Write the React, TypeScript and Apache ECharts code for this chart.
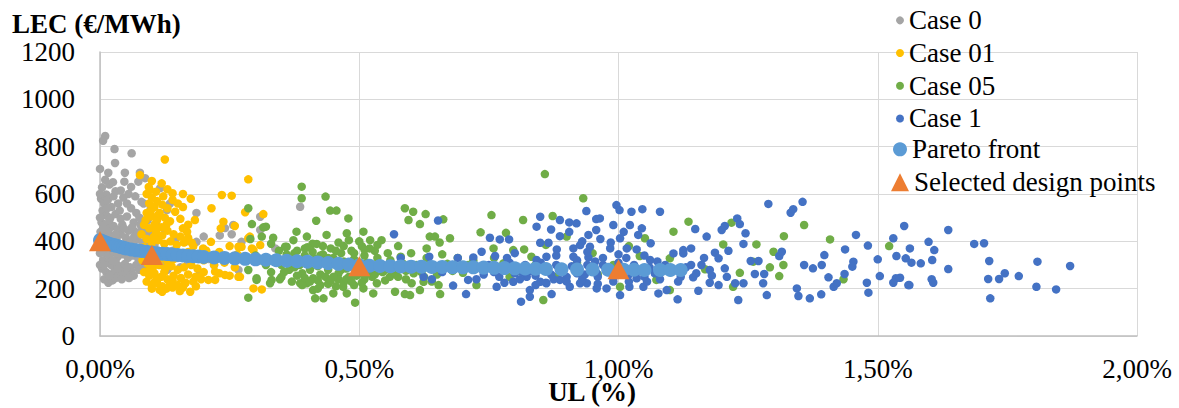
import React, { useEffect, useRef } from "react";
import * as echarts from "echarts";

// x in % (UL), y in €/MWh (LEC)
const case0: number[][] = [
  [0.010,845],[0.006,825],[0.028,790],[0.061,772],[0.029,731],[0.000,706],[0.048,690],[0.077,690],[0.087,667],[0.010,660],
  [0.047,652],[0.074,652],[0.116,625],[0.018,640],[0.004,628],[0.030,612],[0.012,598],[0.055,600],[0.080,567],[0.129,532],
  [0.186,520],[0.309,504],[0.386,546],[0.257,469],[0.241,456],[0.254,430],[0.309,448],[0.200,420],[0.186,398],[0.164,398],
  [0.231,425],[0.273,398],[0.338,370],[0.193,265],[0.145,405],[0.122,335],[0.267,279],
  [0.002,580],[0.008,560],[0.015,575],[0.022,545],[0.035,560],[0.045,585],[0.060,540],[0.070,520],[0.005,530],[0.012,510],
  [0.020,500],[0.030,515],[0.040,495],[0.052,505],[0.065,480],[0.078,470],[0.090,455],[0.003,480],[0.010,470],[0.018,455],
  [0.026,465],[0.034,450],[0.043,470],[0.055,445],[0.068,440],[0.085,430],[0.095,420],[0.001,440],[0.008,425],[0.016,435],
  [0.024,420],[0.032,410],[0.040,430],[0.050,415],[0.060,400],[0.072,410],[0.082,395],[0.100,440],[0.004,400],[0.012,390],
  [0.020,380],[0.028,395],[0.036,375],[0.046,385],[0.056,370],[0.066,380],[0.078,365],[0.090,375],[0.105,385],[0.002,360],
  [0.010,350],[0.018,340],[0.026,355],[0.034,335],[0.044,345],[0.054,330],[0.064,340],[0.074,325],[0.086,335],[0.098,320],
  [0.006,320],[0.014,310],[0.022,300],[0.030,315],[0.038,295],[0.048,305],[0.058,290],[0.070,300],[0.082,295],[0.094,305],
  [0.110,310],[0.004,285],[0.012,270],[0.020,260],[0.028,275],[0.036,255],[0.044,270],[0.060,275],[0.075,280],[0.008,240],
  [0.016,225],[0.024,235],[0.030,245],[0.050,260],[0.065,255],[0.000,300],[0.000,350],[0.000,500],[0.000,600],[0.040,615],
  [0.025,650],[0.016,690],[0.060,630],[0.120,300],[0.130,280],[0.140,360],[0.150,330],[0.155,290],[0.170,310],[0.180,345],
  [0.210,325],[0.220,300],[0.125,450],[0.110,500],[0.135,560],
  [0.014,540],[0.026,590],[0.038,530],[0.052,560],[0.018,490],[0.046,455],[0.062,460],[0.006,455],[0.030,430],[0.070,360],
  [0.014,370],[0.040,360],[0.052,290],[0.024,320],[0.008,300],[0.034,285],[0.042,240],[0.056,245],[0.018,255],[0.090,280],
  [0.068,590],[0.084,560],[0.098,540],[0.076,500],[0.092,490],[0.108,470],[0.066,420],[0.080,445],[0.096,395],[0.112,410]
];

const case01: number[][] = [
  [0.125,746],[0.077,680],[0.100,655],[0.119,645],[0.286,662],[0.235,596],[0.254,593],[0.140,603],[0.096,617],[0.215,540],
  [0.280,523],[0.315,515],[0.238,483],[0.183,490],[0.233,455],[0.260,465],[0.289,420],[0.273,377],[0.309,384],[0.296,363],
  [0.270,250],[0.296,201],[0.312,197],[0.209,237],[0.222,237],[0.241,258],[0.222,272],[0.154,190],[0.174,187],[0.120,187],
  [0.177,394],[0.214,398],[0.199,370],[0.267,377],[0.286,413],[0.293,370],[0.164,223],[0.193,250],[0.267,250],
  [0.090,600],[0.100,585],[0.110,570],[0.095,560],[0.105,545],[0.120,555],[0.130,540],[0.140,575],[0.150,560],[0.160,545],
  [0.145,525],[0.090,520],[0.100,505],[0.110,490],[0.125,500],[0.135,485],[0.155,495],[0.170,470],[0.160,455],[0.085,470],
  [0.095,455],[0.108,440],[0.118,460],[0.130,445],[0.142,430],[0.155,420],[0.168,440],[0.080,430],[0.090,410],[0.100,395],
  [0.112,405],[0.124,390],[0.136,400],[0.148,385],[0.162,395],[0.180,380],[0.085,375],[0.095,360],[0.105,345],[0.118,330],
  [0.130,315],[0.142,325],[0.156,340],[0.170,355],[0.190,340],[0.200,320],[0.082,320],[0.092,305],[0.102,290],[0.114,300],
  [0.126,285],[0.138,295],[0.150,280],[0.162,290],[0.176,300],[0.188,285],[0.085,270],[0.095,255],[0.105,265],[0.118,250],
  [0.130,240],[0.142,255],[0.156,245],[0.170,260],[0.184,250],[0.200,270],[0.090,230],[0.100,215],[0.110,225],[0.120,210],
  [0.135,220],[0.150,215],[0.165,225],[0.180,230],[0.195,240],[0.100,200],[0.115,195],[0.140,205],[0.220,300],[0.240,310],
  [0.260,290],[0.250,255],[0.230,265],[0.170,415],[0.130,620],[0.115,520],[0.160,600],[0.175,580],[0.105,470],[0.250,380],
  [0.265,345],[0.230,355],[0.205,360],
  [0.094,630],[0.108,610],[0.122,590],[0.098,530],[0.112,510],[0.128,470],[0.088,490],[0.104,420],[0.120,425],[0.090,340],
  [0.110,360],[0.124,365],[0.096,280],[0.110,245],[0.124,270],[0.140,235],[0.106,230],[0.128,200],[0.160,205],[0.185,210]
];

const case05: number[][] = [
  [0.286,540],[0.293,473],[0.312,420],[0.320,462],[0.334,415],[0.286,279],[0.302,237],[0.286,162],[0.331,237],[0.347,240],
  [0.389,631],[0.389,582],[0.435,589],[0.417,487],[0.444,530],[0.456,530],[0.479,497],[0.379,441],[0.399,420],[0.418,389],
  [0.437,427],[0.360,377],[0.373,405],[0.386,223],[0.415,159],[0.431,159],[0.450,180],[0.492,141],[0.399,223],[0.411,194],
  [0.469,208],[0.508,441],[0.521,405],[0.543,405],[0.588,540],[0.604,525],[0.595,490],[0.628,515],[0.617,473],[0.636,420],
  [0.646,420],[0.675,413],[0.662,493],[0.357,377],[0.315,459],[0.476,434],[0.476,180],[0.527,180],[0.569,187],[0.588,177],
  [0.598,173],[0.617,194],[0.624,229],[0.656,177],[0.653,215],[0.601,223],[0.559,250],[0.534,223],[0.508,201],[0.328,223],
  [0.302,244],[0.411,244],[0.858,684],[0.932,582],[0.755,511],[0.816,490],[0.873,507],[0.734,438],[0.783,436],[0.759,370],
  [0.797,363],[0.818,366],[0.832,335],[1.106,441],[1.135,483],[1.051,413],[1.041,338],[1.099,328],[1.073,237],[1.003,208],
  [1.099,194],[0.855,152],[0.726,215],[0.700,267],[0.778,307],[1.218,479],[1.358,469],[1.202,387],[1.266,387],[1.319,422],
  [1.408,408],[1.522,380],[1.299,356],[1.260,314],[1.318,300],[1.292,290],[1.167,282],[1.234,267],[1.310,253],[1.434,240],
  [1.221,208],
  [0.340,330],[0.350,300],[0.360,345],[0.365,280],[0.370,320],[0.380,360],[0.385,300],[0.390,265],[0.395,340],[0.400,310],
  [0.405,280],[0.410,355],[0.415,325],[0.420,295],[0.425,260],[0.430,345],[0.435,310],[0.440,280],[0.445,370],[0.450,330],
  [0.455,300],[0.460,265],[0.465,350],[0.470,315],[0.475,285],[0.480,250],[0.485,360],[0.490,325],[0.495,295],[0.500,265],
  [0.505,380],[0.510,340],[0.515,310],[0.520,280],[0.525,250],[0.530,360],[0.535,330],[0.540,300],[0.545,270],[0.550,235],
  [0.555,350],[0.560,320],[0.565,290],[0.570,260],[0.575,380],[0.580,335],[0.585,305],[0.590,275],[0.600,350],[0.610,300],
  [0.620,270],[0.630,330],[0.640,290],[0.650,260],[0.660,345],[0.670,305],[0.680,275],[0.690,330],[0.710,300],[0.350,250],
  [0.370,230],[0.390,215],[0.420,235],[0.440,220],[0.460,240],[0.470,225],[0.490,215],[0.510,240],[0.530,260],[0.420,200],
  [0.450,250],[0.380,255],[0.330,270],[0.345,360],[0.410,390],[0.460,395],[0.500,400],[0.395,370],[0.430,380],[0.520,370],
  [0.480,405],[0.310,320],[0.320,300],[0.300,340],[0.290,410],[0.330,390],[0.630,370],[0.655,395],[0.720,320],[0.740,280],
  [0.760,330],[0.790,250],[0.810,275],[0.840,300],[0.880,250],[0.920,310],[0.960,260],[0.990,300],[0.860,385],[0.900,420],
  [0.950,350],[1.020,380],
  [0.355,270],[0.375,290],[0.395,245],[0.405,230],[0.425,215],[0.435,250],[0.445,235],[0.455,210],[0.465,280],[0.475,240],
  [0.485,230],[0.495,255],[0.505,225],[0.515,265],[0.375,350],[0.400,375],[0.425,340],[0.440,330],[0.455,360],[0.470,380],
  [0.490,350],[0.510,365],[0.535,385],[0.550,280],[0.560,290],[0.575,250],[0.590,240],[0.605,265],[0.625,250],[0.640,230]
];

const case1: number[][] = [
  [0.652,488],[0.567,430],[0.635,335],[0.624,250],[0.640,240],[0.681,213],[0.706,177],[0.710,237],[0.720,332],[0.736,356],
  [0.752,415],[0.771,408],[0.789,408],[0.762,338],[0.726,240],[0.765,208],[0.797,229],[0.812,145],[0.829,166],[0.842,462],
  [0.849,504],[0.849,394],[0.865,394],[0.887,490],[0.887,422],[0.881,366],[0.919,476],[0.938,528],[0.957,494],[0.957,448],
  [0.942,427],[0.913,370],[0.926,384],[0.913,335],[0.926,223],[0.906,208],[0.871,177],[0.849,229],[0.996,553],[1.002,532],
  [1.025,525],[0.990,469],[1.022,469],[1.003,413],[0.984,370],[1.016,370],[1.003,173],[0.964,497],[0.942,332],[0.945,377],
  [0.939,223],[0.977,201],[0.958,201],[1.046,536],[1.080,525],[1.035,366],[1.038,427],[1.062,392],[1.021,208],[1.048,208],
  [1.077,180],[1.093,194],[1.114,155],[1.106,349],[1.125,363],[1.061,321],[1.035,244],[1.016,258],[0.958,265],[0.887,237],
  [0.861,223],[0.829,194],[0.823,250],[0.842,321],[0.861,335],
  [1.148,452],[1.170,420],[1.199,448],[1.205,465],[1.229,497],[1.234,473],[1.245,434],[1.241,389],[1.212,360],[1.186,352],
  [1.193,328],[1.140,370],[1.125,349],[1.176,279],[1.205,286],[1.209,250],[1.225,223],[1.193,215],[1.176,225],[1.154,191],
  [1.144,248],[1.231,152],[1.241,223],[1.255,317],[1.270,317],[1.263,262],[1.281,262],[1.279,223],[1.286,173],[1.289,558],
  [1.332,521],[1.337,536],[1.355,567],[1.310,338],[1.315,356],[1.344,201],[1.347,169],[1.369,159],[1.391,176],[1.358,300],
  [1.375,286],[1.392,300],[1.397,342],[1.405,248],[1.415,208],[1.421,223],[1.436,262],[1.437,366],[1.453,314],[1.451,293],
  [1.458,427],[1.481,382],[1.479,225],[1.482,183],[1.500,324],[1.504,253],[1.530,413],[1.536,338],[1.551,465],[1.554,328],
  [1.559,215],[1.535,244],[1.530,225],[1.562,370],
  [1.636,448],[1.598,398],[1.609,363],[1.565,310],[1.583,307],[1.605,321],[1.636,283],[1.543,246],[1.561,215],[1.604,240],
  [1.607,225],[1.686,389],[1.705,392],[1.715,317],[1.713,241],[1.734,241],[1.745,265],[1.772,253],[1.717,159],[1.808,314],
  [1.806,208],[1.844,197],[1.871,296],
  [0.750,300],[0.760,270],[0.770,250],[0.780,285],[0.790,310],[0.800,265],[0.810,240],[0.820,300],[0.830,275],[0.840,255],
  [0.850,310],[0.860,285],[0.870,260],[0.880,300],[0.890,275],[0.900,250],[0.910,295],[0.920,265],[0.930,240],[0.940,300],
  [0.950,275],[0.960,250],[0.970,300],[0.980,270],[0.990,245],[1.000,310],[1.010,285],[1.020,260],[1.030,300],[1.040,275],
  [1.050,250],[1.060,290],[1.070,265],[1.080,240],[1.090,300],[1.100,270],[1.120,250],[1.130,290],[1.150,265],[1.160,300],
  [1.180,255],[0.780,225],[0.840,215],[0.900,230],[0.960,220],[1.020,230],[0.880,340],[0.940,355],[1.000,345],[1.050,340],
  [0.800,350],[0.970,330],[0.920,320],[0.860,225],[0.990,230],[0.740,260],[0.700,285],[0.680,300],[0.660,270],[0.690,330],
  [0.600,300],[0.580,330],[0.620,290],
  [0.905,440],[0.930,400],[0.965,410],[0.985,395],[1.010,440],[1.045,455],[0.870,450],[0.905,480],[0.815,270],[0.875,240],
  [0.935,260],[0.995,265],[1.055,230],[1.115,230],[1.140,300],[0.785,330],[0.955,315],[1.015,330],[1.075,315],[1.165,330]
];

const pareto: number[][] = [
  [0,405],[0.005,400],[0.01,396],[0.015,392],[0.02,388],[0.025,385],[0.03,382],[0.035,379],[0.04,376],[0.045,373],
  [0.05,370],[0.06,366],[0.07,362],[0.08,359],[0.09,356],[0.1,353],[0.11,350],[0.12,348],[0.13,346],[0.14,344],
  [0.15,342],[0.16,340],[0.17,338],[0.18,337],[0.19,336],[0.2,334],[0.22,332],[0.24,330],[0.26,328],[0.28,326],
  [0.3,324],[0.32,322],[0.34,320],[0.36,318],[0.38,316],[0.4,314],[0.42,311],[0.44,308],[0.46,305],[0.48,302],
  [0.5,299],[0.52,297],[0.54,296],[0.56,295],[0.58,294],[0.6,293],[0.62,293],[0.64,292],[0.66,292],[0.68,291],
  [0.7,290],[0.72,290],[0.74,289],[0.76,288],[0.78,287],[0.8,286],[0.82,285],[0.84,284],[0.86,283],[0.89,282],
  [0.92,281],[0.95,281],[0.98,280],[1.01,280],[1.03,280],[1.05,279],[1.08,279],[1.1,279],[1.12,279]
];

const selected: number[][] = [[0, 400], [0.1, 342], [0.5, 295], [1.0, 282]];

const xTickFormat = (v: number) => v.toFixed(2).replace(".", ",") + "%";
const yTickFormat = (v: number) => String(v);

const FONT = "Times New Roman";
const serifText = { fontSize: 27, color: "#000", fontFamily: FONT };

export default function App() {
  const ref = useRef<HTMLDivElement>(null);
  useEffect(() => {
    if (!ref.current) return;
    const chart = echarts.init(ref.current, null, { renderer: "svg" });
    const caseSeries = (name: string, data: number[][], color: string) => ({
      name,
      type: "scatter",
      data,
      symbol: "circle",
      symbolSize: 8.5,
      itemStyle: { color, opacity: 1 },
      emphasis: { disabled: true },
    });
    const legendText = { ...serifText, lineHeight: 32.7 };
    chart.setOption({
      animation: false,
      backgroundColor: "#ffffff",
      grid: { left: 100, right: 42, top: 52, bottom: 72, containLabel: false },
      xAxis: {
        type: "value",
        min: 0,
        max: 2,
        interval: 0.5,
        axisLine: { show: true, lineStyle: { color: "#bfbfbf", width: 1.5 } },
        axisTick: { show: false },
        splitLine: { show: true, lineStyle: { color: "#d9d9d9", width: 1 } },
        axisLabel: { ...serifText, formatter: xTickFormat, margin: 19 },
      },
      yAxis: {
        type: "value",
        min: 0,
        max: 1200,
        interval: 200,
        axisLine: { show: true, lineStyle: { color: "#bfbfbf", width: 1.5 } },
        axisTick: { show: false },
        splitLine: { show: true, lineStyle: { color: "#d9d9d9", width: 1 } },
        axisLabel: { ...serifText, formatter: yTickFormat, margin: 25 },
      },
      legend: [
        {
          orient: "vertical",
          left: 891,
          top: -1,
          itemWidth: 8,
          itemHeight: 8,
          itemGap: 0,
          itemTextGap: 8,
          icon: "circle",
          data: ["Case 0", "Case 01", "Case 05", "Case 1"],
          textStyle: legendText,
        },
        {
          orient: "vertical",
          left: 888,
          top: 128,
          itemWidth: 14,
          itemHeight: 14,
          itemTextGap: 6,
          icon: "circle",
          data: ["Pareto front"],
          textStyle: legendText,
        },
        {
          orient: "vertical",
          left: 886,
          top: 161,
          itemWidth: 18,
          itemHeight: 18,
          itemTextGap: 4,
          icon: "triangle",
          data: ["Selected design points"],
          textStyle: legendText,
        },
      ],
      graphic: [
        {
          type: "text",
          left: 12,
          top: 10,
          style: { text: "LEC (€/MWh)", fontFamily: FONT, fontSize: 27, fontWeight: "bold", fill: "#000" },
        },
        {
          type: "text",
          x: 592,
          y: 392,
          style: {
            text: "UL (%)",
            fontFamily: FONT,
            fontSize: 27,
            fontWeight: "bold",
            fill: "#000",
            align: "center",
            verticalAlign: "middle",
          },
        },
      ],
      series: [
        caseSeries("Case 0", case0, "#A5A5A5"),
        caseSeries("Case 01", case01, "#FFC000"),
        caseSeries("Case 05", case05, "#70AD47"),
        caseSeries("Case 1", case1, "#4472C4"),
        {
          name: "Pareto front",
          type: "scatter",
          data: pareto,
          symbol: "circle",
          symbolSize: 14,
          itemStyle: { color: "#5B9BD5", opacity: 1 },
          emphasis: { disabled: true },
        },
        {
          name: "Selected design points",
          type: "scatter",
          data: selected,
          symbol: "triangle",
          symbolSize: [22, 20],
          itemStyle: { color: "#ED7D31", opacity: 1 },
          emphasis: { disabled: true },
        },
      ],
    });
    return () => chart.dispose();
  }, []);
  return (
    <div
      ref={ref}
      style={{ position: "fixed", left: 0, top: 0, width: 1179, height: 408, background: "#fff" }}
    />
  );
}
